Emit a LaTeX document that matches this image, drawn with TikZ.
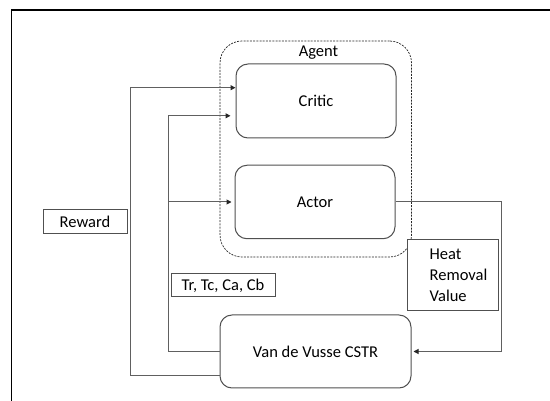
\documentclass[tikz,border=0pt]{standalone}
\usepackage{fontspec}
\setmainfont{Carlito}
\usetikzlibrary{arrows.meta}
\definecolor{boxgray}{HTML}{505050}
\definecolor{linegray}{HTML}{606060}
\begin{document}
\begin{tikzpicture}[x=1pt,y=-1pt,
  font=\fontsize{16.5}{21}\selectfont,
  blockbox/.style={draw=boxgray,line width=1pt,rounded corners=12pt,inner sep=0pt},
  tagbox/.style={draw=boxgray,fill=white,line width=1pt,inner sep=0pt},
  agentbox/.style={draw=black!85,dashed,dash pattern=on 2pt off 1.2pt,line width=0.7pt,rounded corners=22pt,inner sep=0pt},
  conn/.style={draw=linegray,line width=1pt},
  flow/.style={conn,-{Triangle[length=5pt,width=5pt,color=black!85]}}]
\useasboundingbox (0,0) rectangle (550,401);
% frame edges
\draw[line width=1.8pt] (11.5,401) -- (11.5,10) -- (550,10);

% agent group and its members
\node[agentbox,minimum width=191.5pt,minimum height=216pt] (agent) at (315.75,149) {};
\node (agentlabel) at (318.5,53) {Agent};
\node[blockbox,minimum width=160pt,minimum height=74pt] (critic) at (316,101) {Critic};
\node[blockbox,minimum width=160pt,minimum height=73.5pt] (actor) at (315,202) {Actor};

% plant
\node[blockbox,minimum width=191pt,minimum height=73pt] (vdv) at (315.5,351.5) {Van de Vusse CSTR};

% signal tags
\node[tagbox,minimum width=84pt,minimum height=24pt] (reward) at (85,222) {Reward};
\node[tagbox,minimum width=104pt,minimum height=23pt] (states) at (223,285.5) {Tr, Tc, Ca, Cb};
\node[tagbox,minimum width=90.5pt,minimum height=71pt] (heat) at (452.75,275.5) {};
\node[anchor=west,align=left,inner sep=0pt] (heattext) at (429.5,275.5) {Heat\\Removal\\Value};

% reward feedback to the critic
\coordinate (rwlow) at (130.5,375.5);
\coordinate (rwtop) at (130.5,87.7);
\draw[flow] ([yshift=-24pt]vdv.west) -- (rwlow) -- (rwtop) -- ([yshift=13.3pt]critic.west);

% state feedback to critic and actor
\coordinate (stlow) at (168.4,351.5);
\coordinate (sttop) at (168.4,115.8);
\coordinate (stmid) at (168.4,202);
\draw[flow] (vdv.west) -- (stlow) -- (sttop) -- ([xshift=-5pt,yshift=-14.8pt]critic.west);
\draw[flow] (stmid) -- ([xshift=-3pt]actor.west);

% control action back to the plant
\coordinate (actright) at (501,202);
\coordinate (actlow) at (501,351.5);
\draw[flow] (actor.east) -- (actright) -- (actlow) -- ([xshift=2pt]vdv.east);
\end{tikzpicture}
\end{document}
